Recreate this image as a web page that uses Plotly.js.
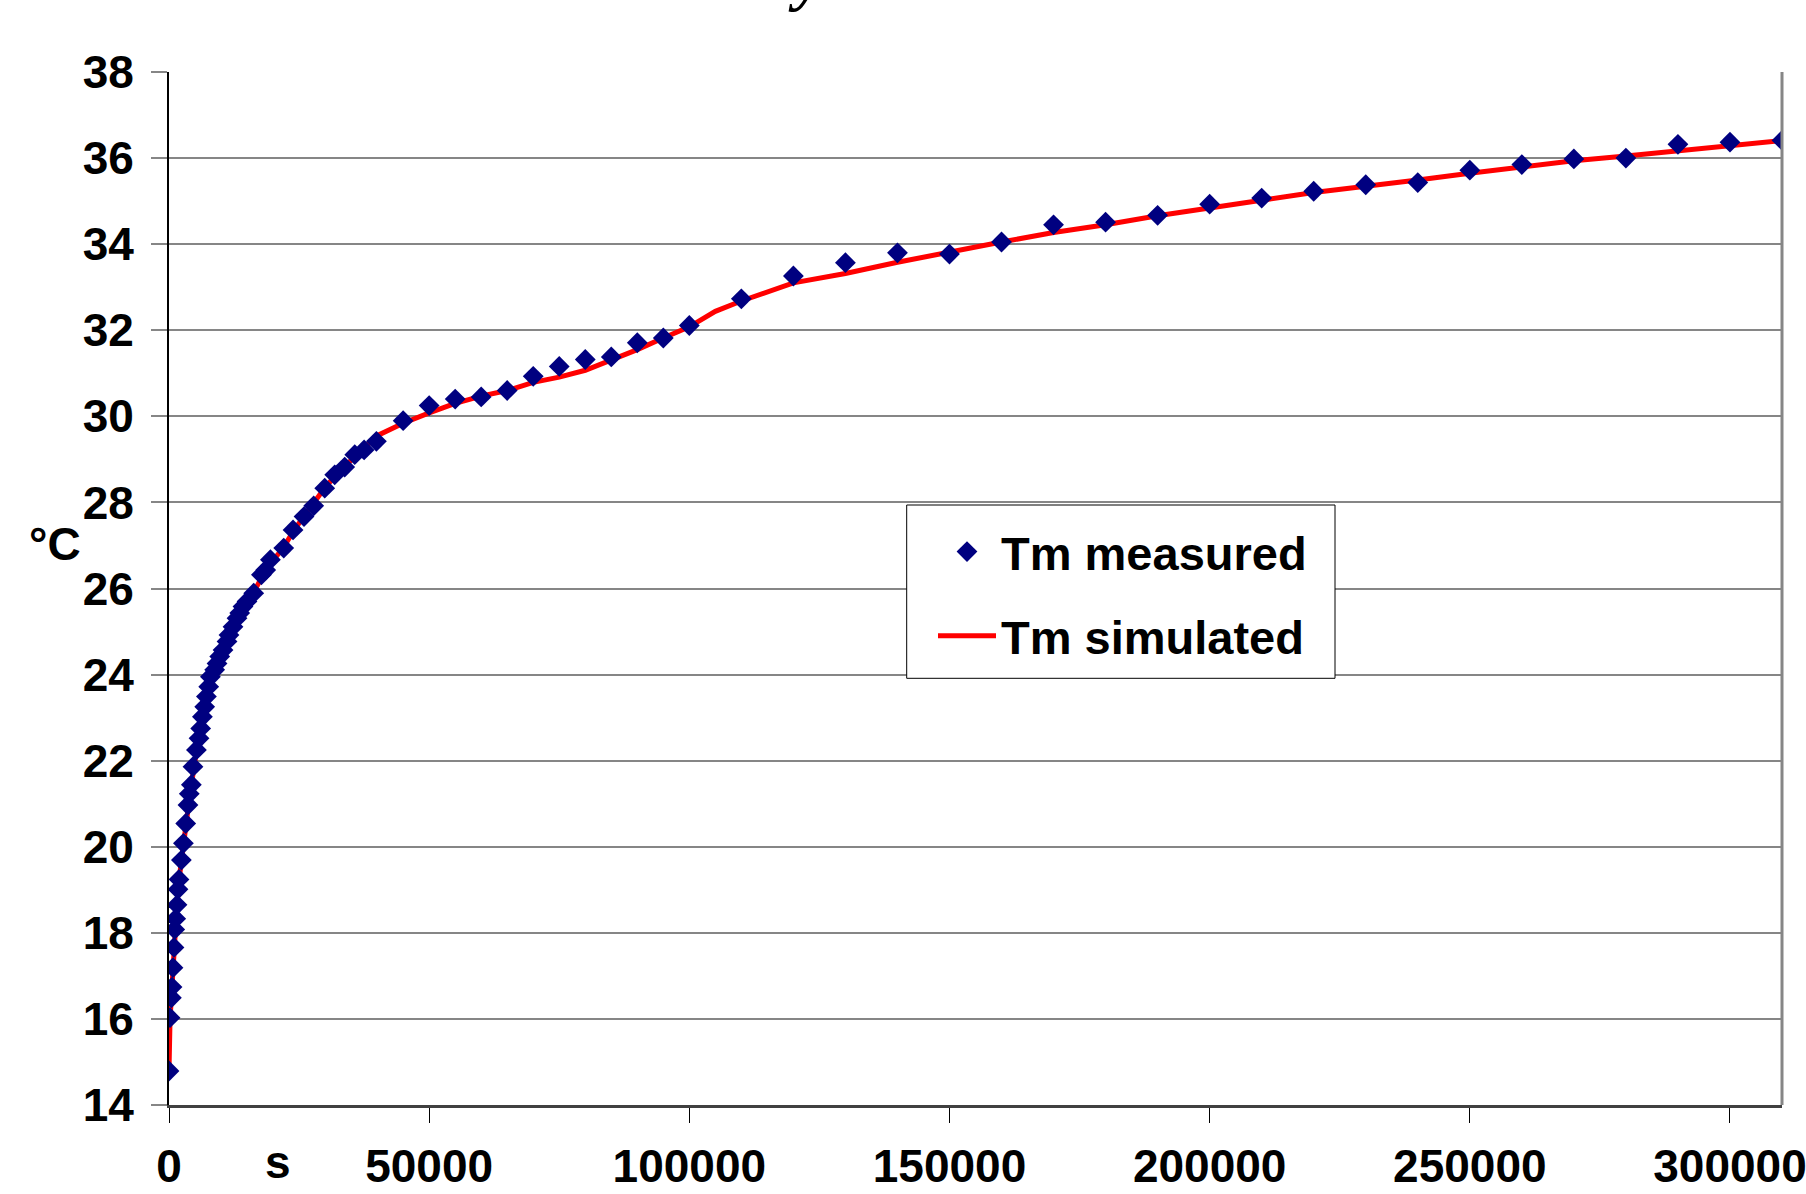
<!DOCTYPE html>
<html>
<head>
<meta charset="utf-8">
<script src="https://cdn.plot.ly/plotly-3.0.1.min.js"></script>
<style>html,body{margin:0;padding:0;background:#fff;}#chart{width:1806px;height:1194px;}</style>
</head>
<body>
<div id="chart"></div>
<script>
// Measured data (time in s, temperature in °C)
var measuredTime = [0, 200, 460, 580, 770, 960, 1100, 1290, 1540, 1730, 1920, 2380, 2770, 3210, 3650, 3900, 4300, 4610, 5270, 5770, 6090, 6420, 6860, 7190, 7630, 7960, 8780, 9230, 9750, 10380, 11150, 11530, 12300, 13070, 13590, 14220, 14990, 16280, 17760, 18590, 19490, 22050, 23840, 25950, 27810, 29930, 31850, 33770, 35700, 37500, 39860, 45000, 50000, 55000, 60000, 65000, 70000, 75000, 80000, 85000, 90000, 95000, 100000, 110000, 120000, 130000, 140000, 150000, 160000, 170000, 180000, 190000, 200000, 210000, 220000, 230000, 240000, 250000, 260000, 270000, 280000, 290000, 300000, 310000];
var measuredTemp = [14.79, 16.03, 16.49, 16.74, 17.19, 17.66, 18.08, 18.33, 18.65, 19.01, 19.24, 19.69, 20.08, 20.54, 20.97, 21.23, 21.44, 21.86, 22.25, 22.52, 22.75, 23.02, 23.25, 23.49, 23.72, 23.95, 24.11, 24.26, 24.42, 24.57, 24.77, 24.92, 25.11, 25.31, 25.43, 25.58, 25.70, 25.89, 26.32, 26.43, 26.67, 26.94, 27.36, 27.67, 27.92, 28.33, 28.64, 28.82, 29.11, 29.22, 29.42, 29.90, 30.25, 30.40, 30.45, 30.60, 30.93, 31.16, 31.32, 31.38, 31.71, 31.82, 32.11, 32.73, 33.26, 33.57, 33.80, 33.77, 34.05, 34.45, 34.51, 34.67, 34.93, 35.07, 35.23, 35.38, 35.43, 35.72, 35.85, 35.98, 36.00, 36.32, 36.37, 36.41];

// Simulated data
var simTime = [0, 200, 600, 1000, 1500, 2000, 3000, 4000, 5000, 6000, 7000, 8000, 10000, 12000, 14000, 16000, 18000, 20000, 22000, 24000, 26000, 28000, 30000, 32000, 34000, 36000, 40000, 45000, 50000, 55000, 60000, 65000, 70000, 75000, 80000, 85000, 90000, 95000, 100000, 105000, 110000, 120000, 130000, 140000, 150000, 160000, 170000, 180000, 190000, 200000, 210000, 220000, 230000, 240000, 250000, 260000, 270000, 280000, 290000, 300000, 310000];
var simTemp = [14.8, 16.0, 16.8, 17.7, 18.6, 19.3, 20.3, 21.2, 22.0, 22.7, 23.3, 23.85, 24.5, 25.0, 25.5, 25.85, 26.3, 26.65, 26.95, 27.35, 27.7, 28.05, 28.35, 28.62, 28.88, 29.1, 29.55, 29.84, 30.08, 30.30, 30.47, 30.60, 30.79, 30.91, 31.07, 31.30, 31.55, 31.82, 32.08, 32.44, 32.68, 33.10, 33.32, 33.58, 33.82, 34.05, 34.27, 34.45, 34.66, 34.85, 35.02, 35.20, 35.34, 35.49, 35.65, 35.80, 35.94, 36.05, 36.17, 36.29, 36.41];

var seriesNames = ['Tm measured', 'Tm simulated'];
var yTitle = '°C';
var xTitle = 's';
var titleFragment = 'y';

var W = 1806, H = 1194;
var M = {l: 169, r: 24, t: 72, b: 89};
var PW = W - M.l - M.r, PH = H - M.t - M.b;
function px2paperX(px) { return (px - M.l) / PW; }
function px2paperY(py) { return (H - M.b - py) / PH; }

var F = {family: 'Liberation Sans, Arial, sans-serif', size: 46, weight: 'bold', color: '#000'};
var FL = {family: 'Liberation Sans, Arial, sans-serif', size: 47, weight: 'bold', color: '#000'};

var traces = [
  {
    x: simTime, y: simTemp, name: seriesNames[1], type: 'scatter', mode: 'lines',
    line: {color: '#FF0000', width: 5}, legendgroup: 'b', legendrank: 2
  },
  {
    x: measuredTime, y: measuredTemp, name: seriesNames[0], type: 'scatter', mode: 'markers',
    marker: {symbol: 'diamond', color: '#000080', size: 16, line: {width: 0}}, legendgroup: 'a', legendrank: 1
  }
];

var layout = {
  width: W, height: H,
  margin: M,
  paper_bgcolor: '#fff', plot_bgcolor: '#fff',
  font: F,
  showlegend: true,
  legend: {
    x: px2paperX(933), xanchor: 'left',
    y: px2paperY(514.5), yanchor: 'top',
    bgcolor: 'rgba(0,0,0,0)', borderwidth: 0,
    font: FL, itemwidth: 58, traceorder: 'grouped', tracegroupgap: 20
  },
  xaxis: {
    range: [0, 310000], tick0: 0, dtick: 50000, tickformat: 'd',
    showgrid: false, zeroline: false,
    showline: true, linecolor: '#404040', linewidth: 3,
    ticks: 'outside', ticklen: 15, tickwidth: 1, tickcolor: '#000',
    tickfont: F, ticklabelstandoff: 4, ticklabeloverflow: 'allow'
  },
  yaxis: {
    range: [14, 38], tick0: 14, dtick: 2,
    showgrid: true, gridcolor: '#868686', gridwidth: 2, zeroline: false,
    showline: true, linecolor: '#000', linewidth: 2,
    ticks: 'outside', ticklen: 16, tickwidth: 2, tickcolor: '#868686',
    tickfont: F, ticklabelstandoff: 8
  },
  shapes: [
    {type: 'line', xref: 'paper', yref: 'paper', x0: 1, x1: 1, y0: 0, y1: 1, line: {color: '#868686', width: 3}},
    {type: 'rect', xref: 'paper', yref: 'paper', layer: 'above',
     x0: px2paperX(906.7), x1: px2paperX(1335), y0: px2paperY(678.3), y1: px2paperY(505),
     fillcolor: '#fff', line: {color: '#000', width: 1}}
  ],
  annotations: [
    {text: yTitle, xref: 'paper', yref: 'paper', x: px2paperX(55), y: px2paperY(544), xanchor: 'center', yanchor: 'middle', showarrow: false, font: F},
    {text: xTitle, xref: 'paper', yref: 'paper', x: px2paperX(278), y: px2paperY(1162), xanchor: 'center', yanchor: 'middle', showarrow: false, font: F},
    {text: titleFragment, xref: 'paper', yref: 'paper', x: px2paperX(806), y: px2paperY(14), xanchor: 'center', yanchor: 'bottom', showarrow: false,
     font: {family: 'Liberation Serif, serif', size: 64, style: 'italic', weight: 'bold', color: '#000'}}
  ]
};

Plotly.newPlot('chart', traces, layout, {displayModeBar: false, staticPlot: true});
</script>
</body>
</html>
